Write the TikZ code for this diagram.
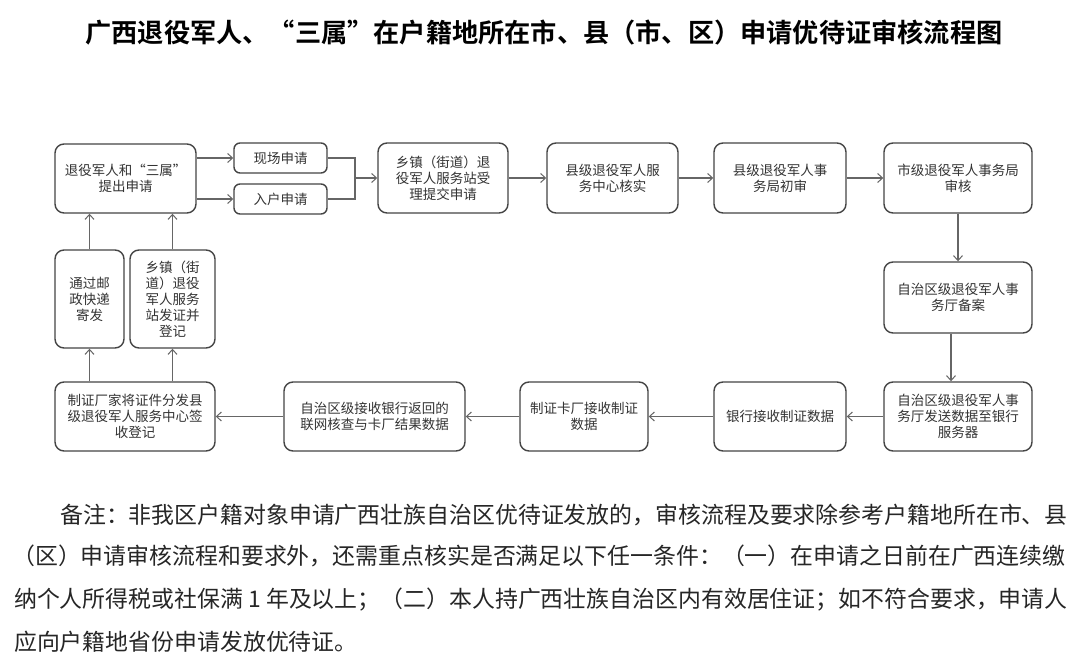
\documentclass[tikz,border=0pt]{standalone}
\usepackage{fontspec}
\setmainfont{Noto Sans CJK SC}
\newfontfamily\cjkb{Noto Sans CJK SC}[BoldFont={* Bold}]
\usetikzlibrary{arrows.meta}
\definecolor{boxline}{HTML}{454545}
\definecolor{edgeline}{HTML}{666666}
\definecolor{txt}{HTML}{333333}
\tikzset{
  flowbox/.style={draw=boxline, line width=1.4pt, rounded corners=9pt, align=center,
    inner sep=2pt, font=\fontsize{13.5}{16}\selectfont, text=txt},
  conn/.style={draw=edgeline, line width=1.2pt},
  arr/.style={conn, -{Straight Barb[length=5pt,width=9pt,line width=1pt]}},
  notetext/.style={anchor=west, inner sep=0pt, font=\fontsize{22.9}{23}\selectfont, text=black!85}
}
\begin{document}
\begin{tikzpicture}[x=1pt,y=-1pt]
\useasboundingbox[fill=white] (0,0) rectangle (1080,666);
\node[font=\cjkb\bfseries\fontsize{26.2}{28}\selectfont] (title) at (544,33) {广西退役军人、“三属”在户籍地所在市、县（市、区）申请优待证审核流程图};

\node[flowbox, minimum width=141pt, minimum height=69pt] (A) at (125.5,178.5) {退役军人和“三属”\\提出申请};
\node[flowbox, minimum width=93pt, minimum height=30pt, rounded corners=6pt] (xc) at (280.5,158) {现场申请};
\node[flowbox, minimum width=93pt, minimum height=30pt, rounded corners=6pt] (rh) at (280.5,199) {入户申请};
\node[flowbox, minimum width=130pt, minimum height=70pt] (xz) at (443,178) {乡镇（街道）退\\役军人服务站受\\理提交申请};
\node[flowbox, minimum width=131pt, minimum height=70pt] (xj) at (612.5,178) {县级退役军人服\\务中心核实};
\node[flowbox, minimum width=132pt, minimum height=70pt] (xs) at (780,178) {县级退役军人事\\务局初审};
\node[flowbox, minimum width=148pt, minimum height=70pt] (sj) at (958,178) {市级退役军人事务局\\审核};
\node[flowbox, minimum width=148pt, minimum height=71pt] (ba) at (958,297.5) {自治区级退役军人事\\务厅备案};
\node[flowbox, minimum width=148pt, minimum height=69pt] (fs) at (958,416.5) {自治区级退役军人事\\务厅发送数据至银行\\服务器};
\node[flowbox, minimum width=132pt, minimum height=69pt] (yh) at (780,416.5) {银行接收制证数据};
\node[flowbox, minimum width=128pt, minimum height=69pt] (kc) at (584,416.5) {制证卡厂接收制证\\数据};
\node[flowbox, minimum width=181pt, minimum height=69pt] (js) at (374.5,416.5) {自治区级接收银行返回的\\联网核查与卡厂结果数据};
\node[flowbox, minimum width=160pt, minimum height=69pt] (zc) at (135,416.5) {制证厂家将证件分发县\\级退役军人服务中心签\\收登记};
\node[flowbox, minimum width=69pt, minimum height=98pt] (yz) at (89.5,299) {通过邮\\政快递\\寄发};
\node[flowbox, minimum width=85pt, minimum height=98pt] (fz) at (172.5,299) {乡镇（街\\道）退役\\军人服务\\站发证并\\登记};

% connectors
\draw[arr] (A.east |- xc) -- (xc.west);
\draw[arr] (A.east |- rh) -- (rh.west);
\coordinate (mg) at (355,178);
\draw[conn] (xc.east) -| (mg);
\draw[conn] (rh.east) -| (mg);
\draw[arr] (mg) -- (xz.west);
\draw[arr] (xz) -- (xj);
\draw[arr] (xj) -- (xs);
\draw[arr] (xs) -- (sj);
\draw[arr] (sj) -- (ba);
\draw[arr] ([xshift=-7pt]ba.south) -- ([xshift=-7pt]fs.north);
\draw[arr] (fs) -- (yh);
\draw[arr] (yh) -- (kc);
\draw[arr] (kc) -- (js);
\draw[arr] (js) -- (zc);
\draw[arr] (zc.north -| yz) -- (yz.south);
\draw[arr] (zc.north -| fz) -- (fz.south);
\draw[arr] (yz.north) -- (yz.north |- A.south);
\draw[arr] (fz.north) -- (fz.north |- A.south);

% notes
\node[notetext] (n1) at (60,515) {备注：非我区户籍对象申请广西壮族自治区优待证发放的，审核流程及要求除参考户籍地所在市、县};
\node[notetext] (n2) at (12,556) {（区）申请审核流程和要求外，还需重点核实是否满足以下任一条件：（一）在申请之日前在广西连续缴};
\node[notetext] (n3) at (14,600) {纳个人所得税或社保满 1 年及以上；（二）本人持广西壮族自治区内有效居住证；如不符合要求，申请人};
\node[notetext] (n4) at (14,642) {应向户籍地省份申请发放优待证。};
\end{tikzpicture}
\end{document}
